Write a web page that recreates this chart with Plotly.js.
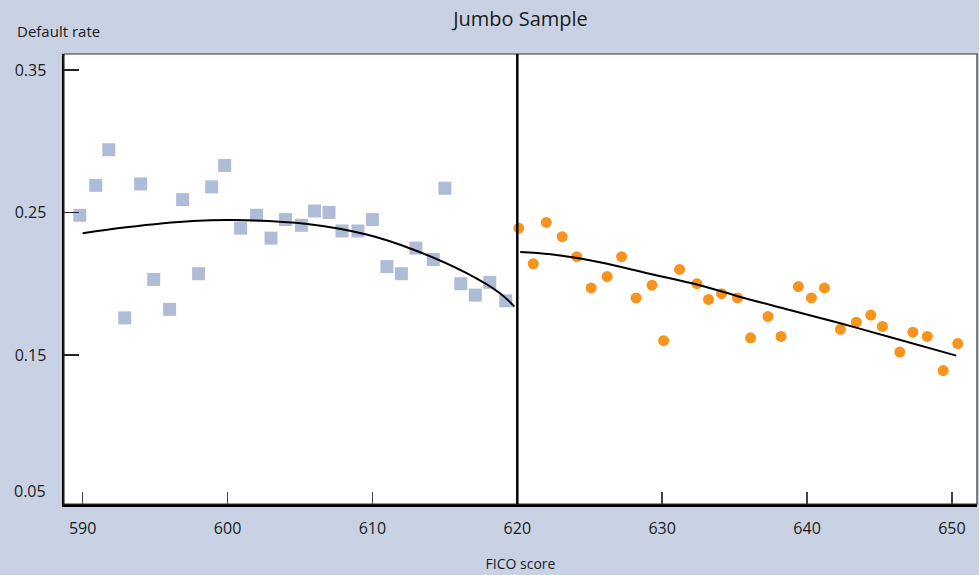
<!DOCTYPE html>
<html>
<head>
<meta charset="utf-8">
<script src="https://cdn.plot.ly/plotly-3.0.1.min.js"></script>
<style>
  html, body { margin: 0; padding: 0; background: #c9d2e4; }
  #plot { width: 979px; height: 575px; }
</style>
</head>
<body>
<div id="plot"></div>
<script>
// below the cutoff (squares)
const belowX = [589.8, 590.9, 591.8, 592.9, 594.0, 594.9, 596.0, 596.9, 598.0, 598.9,
                599.8, 600.9, 602.0, 603.0, 604.0, 605.1, 606.0, 607.0, 607.9, 609.0,
                610.0, 611.0, 612.0, 613.0, 614.2, 615.0, 616.1, 617.1, 618.1, 619.2];
const belowY = [0.248, 0.269, 0.294, 0.176, 0.270, 0.203, 0.182, 0.259, 0.207, 0.268,
                0.283, 0.239, 0.248, 0.232, 0.245, 0.241, 0.251, 0.250, 0.237, 0.237,
                0.245, 0.212, 0.207, 0.225, 0.217, 0.267, 0.200, 0.192, 0.201, 0.188];

// above the cutoff (dots)
const aboveX = [620.1, 621.1, 622.0, 623.1, 624.1, 625.1, 626.2, 627.2, 628.2, 629.3,
                630.1, 631.2, 632.4, 633.2, 634.1, 635.2, 636.1, 637.3, 638.2, 639.4,
                640.3, 641.2, 642.3, 643.4, 644.4, 645.2, 646.4, 647.3, 648.3, 649.4, 650.4];
const aboveY = [0.239, 0.214, 0.243, 0.233, 0.219, 0.197, 0.205, 0.219, 0.190, 0.199,
                0.160, 0.210, 0.200, 0.189, 0.193, 0.190, 0.162, 0.177, 0.163, 0.198,
                0.190, 0.197, 0.168, 0.173, 0.178, 0.170, 0.152, 0.166, 0.163, 0.139, 0.158];

// fitted curves
const fitBelowX = [590.0, 593.0, 597.6, 600.5, 605.5, 609.6, 612.8, 616.5, 618.8, 619.8];
const fitBelowY = [0.2354, 0.2396, 0.2440, 0.2447, 0.2419, 0.2345, 0.2240, 0.2074, 0.1933, 0.1839];
const fitAboveX = [620.2, 622.3, 625.7, 629.2, 632.6, 635.4, 638.8, 642.3, 645.7, 650.3];
const fitAboveY = [0.2223, 0.2207, 0.2151, 0.2068, 0.1989, 0.1907, 0.1816, 0.1722, 0.1626, 0.1495];

const cutoff = 620;
const xTicks = [590, 600, 610, 620, 630, 640, 650];
const yTicks = [0.15, 0.25, 0.35];
const yTickText = ['0.15', '0.25', '0.35'];

const FONT = '"Open Sans", "DejaVu Sans", sans-serif';

const squares = {
    x: belowX, y: belowY,
    mode: 'markers', type: 'scatter',
    marker: { symbol: 'square', size: 13, color: '#aebcd7' },
    hoverinfo: 'skip',
};
const dots = {
    x: aboveX, y: aboveY,
    mode: 'markers', type: 'scatter',
    marker: { symbol: 'circle', size: 11, color: '#f7941d' },
    hoverinfo: 'skip',
};
const fitBelow = {
    x: fitBelowX, y: fitBelowY,
    mode: 'lines', type: 'scatter',
    line: { color: '#000', width: 2, shape: 'spline' },
    hoverinfo: 'skip',
};
const fitAbove = {
    x: fitAboveX, y: fitAboveY,
    mode: 'lines', type: 'scatter',
    line: { color: '#000', width: 2, shape: 'spline' },
    hoverinfo: 'skip',
};

const layout = {
    width: 979,
    height: 575,
    paper_bgcolor: '#c9d2e4',
    plot_bgcolor: '#ffffff',
    showlegend: false,
    margin: { l: 64, r: 2, t: 54, b: 71 },
    font: { family: FONT, color: '#1a1a1a', size: 16 },
    title: {
        text: 'Jumbo Sample',
        font: { family: FONT, size: 20, color: '#1a1a1a' },
        x: 0.5, xref: 'paper',
        y: 0.967, yref: 'container', yanchor: 'middle',
    },
    xaxis: {
        range: [588.71, 651.73],
        tickvals: xTicks,
        ticks: 'inside',
        ticklen: 12,
        tickwidth: 1.5,
        tickcolor: '#444',
        ticklabelstandoff: 8,
        showgrid: false,
        zeroline: false,
        showline: true,
        linecolor: '#000',
        linewidth: 2.5,
        tickfont: { family: FONT, size: 16, color: '#1a1a1a' },
        title: { text: 'FICO score', font: { family: FONT, size: 14, color: '#1a1a1a' }, standoff: 22 },
    },
    yaxis: {
        range: [0.0454, 0.3612],
        tickvals: yTicks,
        ticktext: yTickText,
        ticks: 'inside',
        ticklen: 15,
        tickwidth: 1.5,
        tickcolor: '#222',
        ticklabelstandoff: 12,
        showgrid: false,
        zeroline: false,
        showline: true,
        linecolor: '#000',
        linewidth: 2.5,
        tickfont: { family: FONT, size: 16, color: '#1a1a1a' },
    },
    shapes: [
        {
            type: 'rect', xref: 'paper', yref: 'paper',
            x0: 0, x1: 1, y0: 0, y1: 1,
            line: { color: '#333', width: 1.2 },
        },
        {
            type: 'line', xref: 'x', yref: 'paper',
            x0: cutoff, x1: cutoff, y0: 0, y1: 1,
            line: { color: '#000', width: 2.5 },
        },
    ],
    annotations: [
        {
            text: 'Default rate', xref: 'paper', yref: 'paper',
            x: -0.054, y: 1.051, xanchor: 'left', yanchor: 'middle',
            showarrow: false,
            font: { family: FONT, size: 15, color: '#1a1a1a' },
        },
        {
            text: '0.05', xref: 'paper', yref: 'paper',
            x: -0.017, y: 0.029, xanchor: 'right', yanchor: 'middle',
            showarrow: false,
            font: { family: FONT, size: 16, color: '#1a1a1a' },
        },
    ],
};

const config = {
    staticPlot: true,
    displayModeBar: false,
};

Plotly.newPlot('plot', [squares, dots, fitBelow, fitAbove], layout, config);
</script>
</body>
</html>
